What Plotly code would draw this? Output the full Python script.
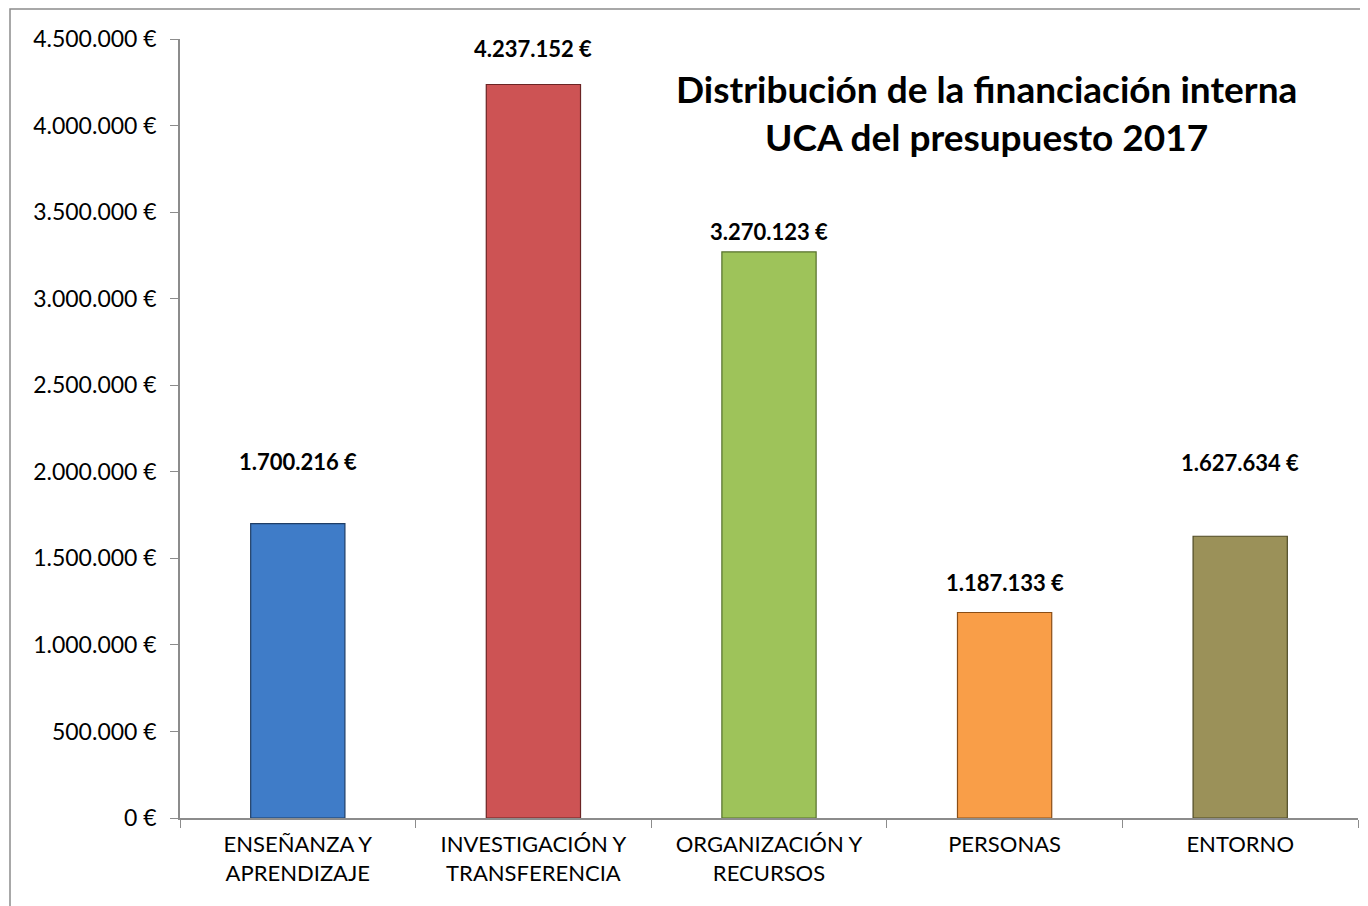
import plotly.graph_objects as go

categories = ["ENSEÑANZA Y<br>APRENDIZAJE", "INVESTIGACIÓN Y<br>TRANSFERENCIA",
              "ORGANIZACIÓN Y<br>RECURSOS", "PERSONAS", "ENTORNO"]
values = [1700216, 4237152, 3270123, 1187133, 1627634]
colors = ["#3F7CC8", "#CD5354", "#9EC35A", "#F99E48", "#9B9159"]
borders = ["#1F3E66", "#6B2424", "#55702A", "#8A4E16", "#4F4A25"]
label_offsets = [62, 36, 20, 30, 74]

FONT = "Lato, 'Open Sans', sans-serif"

fig = go.Figure(go.Bar(
    x=categories, y=values,
    marker=dict(color=colors, line=dict(color=borders, width=1.2)),
    width=0.40, hoverinfo="skip",
))

for c, v, off in zip(categories, values, label_offsets):
    fig.add_annotation(x=c, y=v, text="<b>" + f"{v:,}".replace(",", ".") + " €</b>",
                       showarrow=False, yshift=off, yanchor="middle",
                       font=dict(family=FONT, size=22, color="black"))

fig.add_annotation(xref="paper", yref="paper", x=0.685, y=0.906,
                   text="<b>Distribución de la financiación interna<br>UCA del presupuesto 2017</b>",
                   showarrow=False, align="center", xanchor="center", yanchor="middle",
                   font=dict(family=FONT, size=37, color="black"))

# page body has an 8px margin; figure coordinates are offset accordingly
W, H = 1368, 906
L, R, T, B = 172, 18, 31, 96
pw, ph = W - L - R, H - T - B
fig.add_shape(type="rect", xref="paper", yref="paper",
              x0=(2 - L) / pw, x1=(W + 20 - L) / pw,
              y0=-(B + 20) / ph, y1=(H - B - 1) / ph,
              line=dict(color="#8C8C8C", width=1.5), layer="below")

fig.update_layout(
    width=W, height=H, margin=dict(l=L, r=R, t=T, b=B),
    paper_bgcolor="white", plot_bgcolor="white",
    separators=",.", showlegend=False,
    font=dict(family=FONT, size=22, color="black"),
)
fig.update_xaxes(showline=True, linecolor="#8C8C8C", linewidth=1.5,
                 ticks="outside", tickson="boundaries", ticklen=8, tickcolor="#8C8C8C",
                 tickfont=dict(family=FONT, size=22), showgrid=False, ticklabelstandoff=6)
fig.update_yaxes(range=[0, 4500000], dtick=500000, tickformat=",.0f", ticksuffix=" €",
                 showline=True, linecolor="#8C8C8C", linewidth=1.5,
                 ticks="outside", ticklen=8, tickcolor="#8C8C8C",
                 tickfont=dict(family=FONT, size=23), showgrid=False, zeroline=False,
                 ticklabelstandoff=9)

fig.write_html("out.html")
